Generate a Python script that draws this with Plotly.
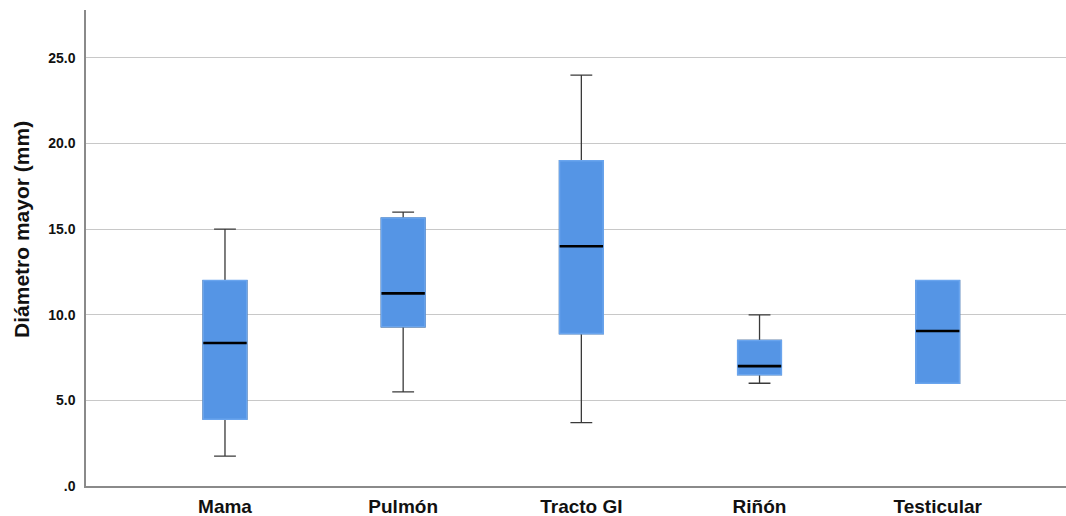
import plotly.graph_objects as go

categories = ["Mama", "Pulmón", "Tracto GI", "Riñón", "Testicular"]
lower_whisker = [1.75, 5.5, 3.7, 6.0, 6.0]
q1 = [3.9, 9.3, 8.9, 6.5, 6.0]
median = [8.35, 11.25, 14.0, 7.0, 9.05]
q3 = [12.0, 15.65, 19.0, 8.5, 12.0]
upper_whisker = [15.0, 16.0, 24.0, 10.0, 12.0]

y_tick_vals = [0, 5, 10, 15, 20, 25]
y_tick_text = [".0", "5.0", "10.0", "15.0", "20.0", "25.0"]
y_title = "Diámetro mayor (mm)"

BLUE = "#5595E5"
BOX_W = 0.245
FONT = "Liberation Sans, Arial, Helvetica, sans-serif"

fig = go.Figure()
# whiskers (dark)
fig.add_trace(go.Box(
    x=categories, q1=q1, median=median, q3=q3,
    lowerfence=lower_whisker, upperfence=upper_whisker,
    width=BOX_W, whiskerwidth=0.5,
    fillcolor=BLUE, line=dict(color="#3a3a3a", width=1.3),
    boxpoints=False, hoverinfo="skip", showlegend=False,
))
# box body (blue, covers dark outline)
fig.add_trace(go.Box(
    x=categories, q1=q1, median=median, q3=q3,
    lowerfence=q1, upperfence=q3,
    width=BOX_W, whiskerwidth=0,
    fillcolor=BLUE, line=dict(color="#6aa5ee", width=1.6),
    boxpoints=False, hoverinfo="skip", showlegend=False,
))
# medians (black)
fig.add_trace(go.Scatter(
    x=categories, y=median, mode="markers",
    marker=dict(symbol="line-ew", size=31, color="black",
                line=dict(color="black", width=2.6)),
    hoverinfo="skip", showlegend=False,
))

fig.add_annotation(
    text=y_title, textangle=-90, showarrow=False,
    xref="paper", yref="paper", x=-0.0653, y=0.538,
    xanchor="center", yanchor="middle",
    font=dict(size=21, family=FONT, weight="bold", color="#111"),
)

fig.update_layout(
    width=1066, height=516,
    margin=dict(l=86, r=0, t=10, b=30),
    paper_bgcolor="white", plot_bgcolor="white",
    boxmode="overlay",
    font=dict(family=FONT, color="#111"),
    xaxis=dict(
        range=[-0.78, 4.72], showgrid=False, zeroline=False,
        showline=True, linecolor="#8a8a8a", linewidth=1.5,
        ticks="", tickfont=dict(size=19, weight="bold"),
        ticklabelstandoff=2, automargin=False,
    ),
    yaxis=dict(
        range=[0, 27.8], tickvals=y_tick_vals, ticktext=y_tick_text,
        showgrid=True, gridcolor="#c8c8c8", gridwidth=1.2, zeroline=False,
        showline=True, linecolor="#8a8a8a", linewidth=1.5,
        ticks="", tickfont=dict(size=14, weight="bold"),
        ticklabelstandoff=6, automargin=False,
    ),
)

fig.write_html(
    "out.html",
    config={"displayModeBar": False},
    post_script="document.body.style.margin='0';document.body.style.overflow='hidden';",
)
